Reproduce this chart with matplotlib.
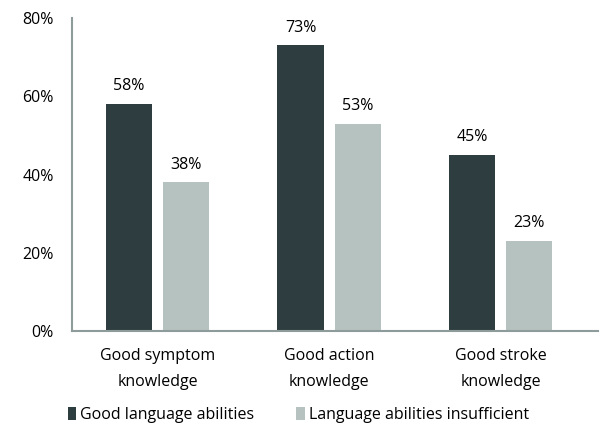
import matplotlib
matplotlib.use("Agg")
from matplotlib import pyplot as plt
import numpy as np

categories = ["Good symptom\nknowledge", "Good action\nknowledge", "Good stroke\nknowledge"]
good_lang = [58, 73, 45]
insufficient = [38, 53, 23]
series_names = ["Good language abilities", "Language abilities insufficient"]
yticks = [0, 20, 40, 60, 80]

dark = "#2e3e40"
light = "#b5c2c0"
axis_col = "#8e9b9b"

plt.rcParams['font.family'] = ['Open Sans', 'DejaVu Sans']

fig = plt.figure(figsize=(6, 4.3), dpi=100)
ax = fig.add_axes([0.12, 0.23, 0.877, 0.728])

x = np.arange(len(categories))
w = 0.27
off = 0.167
b1 = ax.bar(x - off, good_lang, width=w, color=dark, label=series_names[0])
b2 = ax.bar(x + off, insufficient, width=w, color=light, label=series_names[1])

for bars, vals in [(b1, good_lang), (b2, insufficient)]:
    for bar, v in zip(bars, vals):
        ax.text(bar.get_x() + bar.get_width() / 2, v + 2.5, f"{v}%",
                ha='center', va='bottom', fontsize=11.5, color='black')

ax.set_xlim(-0.5, 2.57)
ax.set_ylim(0, 80)
ax.set_yticks(yticks)
ax.set_yticklabels([f"{t}%" for t in yticks], fontsize=11.5)
ax.set_xticks(x)
ax.set_xticklabels(categories, fontsize=11.5, linespacing=1.85)
ax.tick_params(axis='both', length=0)
ax.tick_params(axis='y', pad=13)
ax.tick_params(axis='x', pad=12)

for s in ['top', 'right']:
    ax.spines[s].set_visible(False)
for s in ['left', 'bottom']:
    ax.spines[s].set_color(axis_col)
    ax.spines[s].set_linewidth(1.5)

fig.legend(handles=[b1, b2], loc='center', bbox_to_anchor=(0.497, 0.035), ncol=2,
           frameon=False, fontsize=11.5, handlelength=0.55, handleheight=0.85,
           handletextpad=0.25, columnspacing=2.6)

fig.savefig("out.png", dpi=100)
